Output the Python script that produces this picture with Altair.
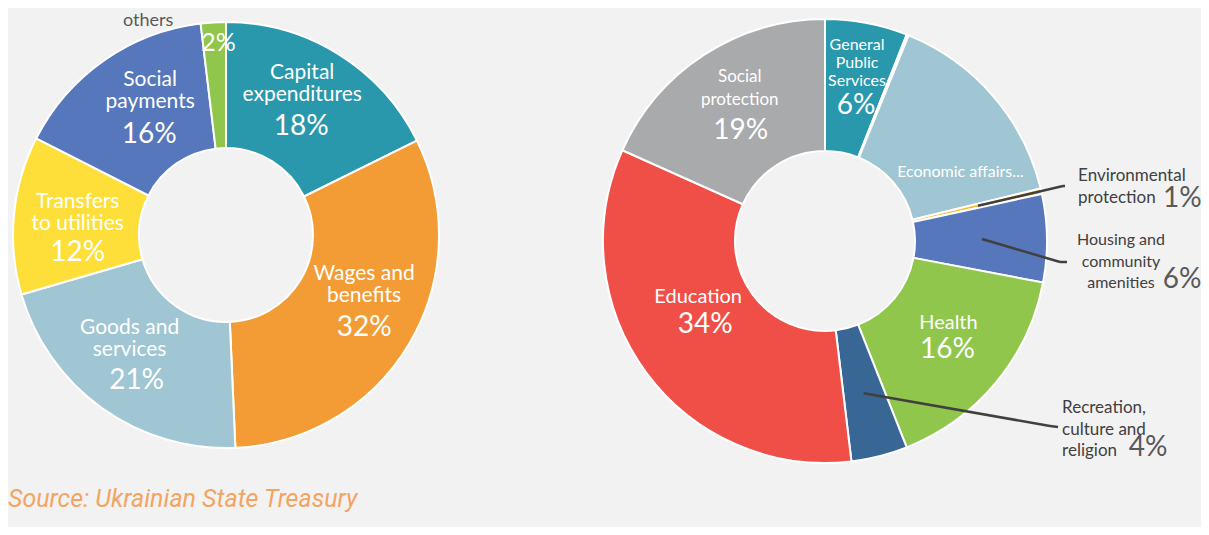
import altair as alt
import pandas as pd

# ---------------- data ----------------
# Left donut: expenditures by economic classification
left_keys = ["cap", "wages", "goods", "transfers", "socpay", "others"]
left_names = ["Capital|expenditures", "Wages and|benefits", "Goods and|services",
              "Transfers|to utilities", "Social|payments", "others"]
left_values = [17.7, 31.6, 21.2, 12.0, 15.6, 1.9]
left_pct = ["18%", "32%", "21%", "12%", "16%", "2%"]

# Right donut: expenditures by functional classification
right_keys = ["gps", "order", "econ", "env", "housing", "health", "recreation", "education", "socprot"]
right_names = ["General|Public|Services", "", "Economic affairs...", "Environmental|protection",
               "Housing and|community|amenities", "Health", "Recreation,|culture and|religion",
               "Education", "Social|protection"]
right_values = [6.0, 0.15, 15.05, 0.4, 6.4, 16.0, 4.1, 33.6, 18.3]
right_pct = ["6%", "", "", "1%", "6%", "16%", "4%", "34%", "19%"]

source_text = "Source: Ukrainian State Treasury"

# ---------------- styles ----------------
left_colors = ["#2a98ac", "#f39c35", "#a0c6d3", "#fedf3a", "#5677bb", "#8fc64b"]
right_colors = ["#2a98ac", "#f08a6a", "#a0c6d3", "#fbb829", "#5677bb", "#90c64c",
                "#386796", "#f04f48", "#a9aaac"]
FONT = "Lato"
BG = "#f2f2f2"

left_df = pd.DataFrame({"key": left_keys, "name": left_names, "value": left_values,
                        "pct": left_pct, "idx": range(len(left_keys))})
right_df = pd.DataFrame({"key": right_keys, "name": right_names, "value": right_values,
                         "pct": right_pct, "idx": range(len(right_keys))})

color_scale = alt.Scale(domain=left_keys + right_keys, range=left_colors + right_colors)

# donut geometry (chart coordinates)
L_CX, L_CY, L_RIN, L_ROUT = 218, 227, 87, 213
R_CX, R_CY, R_RIN, R_ROUT = 817, 233, 90, 222


def donut(df, cx, cy, rin, rout):
    return alt.Chart(df).mark_arc(innerRadius=rin, outerRadius=rout, stroke="white",
                                  strokeWidth=2).encode(
        theta=alt.Theta("value:Q", stack=True),
        order=alt.Order("idx:Q"),
        color=alt.Color("key:N", scale=color_scale, legend=None),
        x=alt.value(cx), y=alt.value(cy),
    )


def label(df, cx, cy, key, field, r, dx, dy, size, color="white", align="center",
          baseline="middle", lh=None):
    props = dict(radius=r, dx=dx, dy=dy, fontSize=size, color=color, font=FONT,
                 align=align, baseline=baseline, lineBreak="|")
    if lh is not None:
        props["lineHeight"] = lh
    return alt.Chart(df).transform_calculate(
        lab=f"datum.key === '{key}' ? datum.{field} : ''"
    ).mark_text(**props).encode(
        theta=alt.Theta("value:Q", stack=True),
        order=alt.Order("idx:Q"),
        text="lab:N",
        x=alt.value(cx), y=alt.value(cy),
    )


layers = [donut(left_df, L_CX, L_CY, L_RIN, L_ROUT), donut(right_df, R_CX, R_CY, R_RIN, R_ROUT)]

# ---- leader lines for the small right-hand slices ----
leader_elbow = {"env": (1055, 178), "housing": (1052, 254), "recreation": (1042, 418)}
leader_end = {"env": (1057, 178), "housing": (1059, 254), "recreation": (1050, 419)}


def pick(d, i):
    expr = "0"
    for k, v in d.items():
        expr = f"datum.key === '{k}' ? {v[i]} : ({expr})"
    return expr


leader_base = alt.Chart(right_df).transform_window(
    cum="sum(value)", sort=[alt.SortField("idx")], frame=[None, 0]
).transform_joinaggregate(total="sum(value)").transform_calculate(
    ang="(datum.cum - datum.value / 2) / datum.total * 2 * PI"
).transform_filter(
    alt.FieldOneOfPredicate(field="key", oneOf=list(leader_elbow.keys()))
).transform_calculate(
    x1=f"{R_CX} + 157 * sin(datum.ang)",
    y1=f"{R_CY} - 157 * cos(datum.ang)",
    x2=pick(leader_elbow, 0), y2=pick(leader_elbow, 1),
    x3=pick(leader_end, 0), y3=pick(leader_end, 1),
)
layers.append(leader_base.mark_rule(color="#404040", strokeWidth=2.5).encode(
    x=alt.X("x1:Q", scale=None), y=alt.Y("y1:Q", scale=None), x2="x2:Q", y2="y2:Q"))
layers.append(leader_base.mark_rule(color="#404040", strokeWidth=2.5).encode(
    x=alt.X("x2:Q", scale=None), y=alt.Y("y2:Q", scale=None), x2="x3:Q", y2="y3:Q"))

# ---- left labels ----
LN, LP = 21, 28
left_layout = {
    "cap": ((-3, -29), (-4, 27)),
    "wages": ((9, -31), (9, 25)),
    "goods": ((-9, -23), (-2, 32)),
    "transfers": ((1, -13), (1, 40)),
    "socpay": ((10, -26), (9, 31)),
}
for k, ((ndx, ndy), (pdx, pdy)) in left_layout.items():
    layers.append(label(left_df, L_CX, L_CY, k, "name", 150, ndx, ndy, LN,
                        baseline="alphabetic", lh=22))
    layers.append(label(left_df, L_CX, L_CY, k, "pct", 150, pdx, pdy, LP, baseline="alphabetic"))
layers.append(label(left_df, L_CX, L_CY, "others", "pct", 192, 4, 8, 25, baseline="alphabetic"))
layers.append(label(left_df, L_CX, L_CY, "others", "name", 217, -65, 8, 18, color="#595959",
                    baseline="alphabetic"))

# ---- right labels (inside) ----
RP = 28
layers.append(label(right_df, R_CX, R_CY, "gps", "name", 155, 3, -44, 16, lh=18))
layers.append(label(right_df, R_CX, R_CY, "gps", "pct", 155, 2, 17, RP))
layers.append(label(right_df, R_CX, R_CY, "econ", "name", 155, 18, 32, 16))
layers.append(label(right_df, R_CX, R_CY, "socprot", "name", 155, -1, -34, 17, lh=23))
layers.append(label(right_df, R_CX, R_CY, "socprot", "pct", 155, 0, 20, RP))
layers.append(label(right_df, R_CX, R_CY, "health", "name", 155, 4, -17, 20))
layers.append(label(right_df, R_CX, R_CY, "health", "pct", 155, 3, 10, RP))
layers.append(label(right_df, R_CX, R_CY, "education", "name", 155, -2, -36, 20))
layers.append(label(right_df, R_CX, R_CY, "education", "pct", 155, 5, -8, RP))

# ---- right labels (outside) ----
DARK, MID = "#404040", "#595959"
layers.append(label(right_df, R_CX, R_CY, "env", "name", 155, 102, -30, 17, color=DARK,
                    align="left", lh=22))
layers.append(label(right_df, R_CX, R_CY, "env", "pct", 155, 187, -7, RP, color=MID, align="left"))
layers.append(label(right_df, R_CX, R_CY, "housing", "name", 155, 141, 1, 16, color=DARK, lh=21.5))
layers.append(label(right_df, R_CX, R_CY, "housing", "pct", 155, 202, 41, RP, color=MID))
layers.append(label(right_df, R_CX, R_CY, "recreation", "name", 155, 199, 17, 17, color=DARK,
                    align="left", lh=21.5))
layers.append(label(right_df, R_CX, R_CY, "recreation", "pct", 155, 285, 57, RP, color=MID))

# ---- source note ----
layers.append(alt.Chart(pd.DataFrame({"t": [source_text]})).mark_text(
    font="Roboto", fontStyle="italic", fontSize=25, color="#f4a461", align="left",
    baseline="middle").encode(text="t:N", x=alt.value(0), y=alt.value(491)))

chart = alt.layer(*layers).resolve_scale(theta="independent").properties(
    width=1193, height=519, autosize="none", padding=0, background=BG
).configure_view(stroke=None)

chart.save("out.html", embed_options={"renderer": "svg", "actions": False})
